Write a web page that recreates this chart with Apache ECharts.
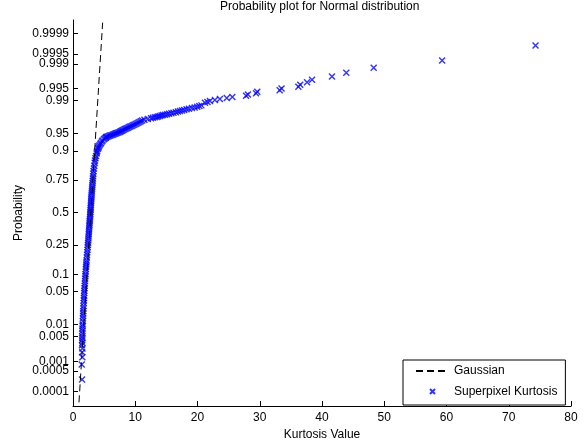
<!DOCTYPE html>
<html>
<head>
<meta charset="utf-8">
<script src="https://cdn.jsdelivr.net/npm/echarts@6/dist/echarts.min.js"></script>
<style>html,body{margin:0;padding:0;background:#fff}#c{width:583px;height:442px}</style>
</head>
<body>
<div id="c"></div>
<script>
// ---- data (sorted sample) ----
const kurtosis = [
1.45,1.40,1.50,1.47,1.52,1.44,1.50,1.47,1.52,1.49,
1.50,1.51,1.52,1.54,1.55,1.58,1.60,1.62,1.64,1.65,
1.67,1.69,1.72,1.74,1.76,1.78,1.80,1.82,1.85,1.88,
1.90,1.93,1.96,1.99,2.01,2.04,2.07,2.10,2.12,2.15,
2.18,2.22,2.26,2.29,2.33,2.36,2.39,2.42,2.45,2.48,
2.50,2.53,2.55,2.58,2.60,2.62,2.65,2.67,2.69,2.71,
2.73,2.75,2.78,2.80,2.82,2.84,2.86,2.88,2.90,2.92,
2.94,2.96,2.98,3.00,3.03,3.06,3.09,3.11,3.14,3.17,
3.20,3.23,3.26,3.30,3.35,3.42,3.49,3.54,3.61,3.70,
3.79,3.84,3.89,4.00,4.09,4.17,4.26,4.40,4.50,4.64,
4.76,4.96,5.10,5.25,5.33,5.40,5.59,5.79,5.96,6.17,
6.37,6.54,6.73,6.91,7.10,7.29,7.48,7.63,7.79,7.93,
8.09,8.27,8.44,8.63,8.83,9.03,9.22,9.42,9.63,9.85,
10.06,10.27,10.48,10.68,10.89,11.11,11.47,12.02,12.54,12.84,
13.14,13.44,13.69,13.94,14.22,14.47,14.79,15.11,15.43,15.80,
16.14,16.52,16.85,17.18,17.50,17.85,18.24,18.63,19.10,19.54,
19.96,20.30,20.63,21.2,21.6,22.0,22.8,23.6,24.7,25.6,
27.8,28.1,29.4,29.6,33.2,33.5,36.2,36.5,37.6,38.4,
41.6,43.9,48.3,59.3,74.3
];
const probability = [
0.00026,0.00079,0.00132,0.00184,0.00237,0.00289,0.00342,0.00395,0.00447,0.0050,
0.006,0.007,0.008,0.009,0.010,0.012,0.014,0.016,0.018,0.020,
0.023,0.026,0.030,0.034,0.038,0.042,0.047,0.052,0.058,0.064,
0.070,0.077,0.085,0.093,0.100,0.11,0.12,0.13,0.14,0.15,
0.16,0.175,0.19,0.205,0.22,0.235,0.25,0.265,0.28,0.295,
0.31,0.325,0.34,0.355,0.37,0.385,0.40,0.415,0.43,0.445,
0.46,0.475,0.49,0.505,0.52,0.535,0.55,0.565,0.58,0.595,
0.61,0.625,0.64,0.655,0.67,0.685,0.70,0.715,0.73,0.745,
0.76,0.775,0.79,0.805,0.82,0.835,0.85,0.86,0.87,0.88,
0.89,0.895,0.90,0.907,0.911,0.915,0.919,0.923,0.926,0.93,
0.933,0.936,0.938,0.94,0.941,0.942,0.943,0.944,0.945,0.946,
0.947,0.948,0.949,0.950,0.951,0.952,0.953,0.954,0.955,0.956,
0.957,0.958,0.959,0.960,0.961,0.962,0.963,0.964,0.965,0.966,
0.967,0.968,0.969,0.970,0.971,0.972,0.973,0.974,0.975,0.9755,
0.976,0.9765,0.977,0.9775,0.978,0.9785,0.979,0.9795,0.980,0.9805,
0.981,0.9815,0.982,0.9825,0.983,0.9835,0.984,0.9845,0.985,0.9855,
0.986,0.9865,0.987,0.98868,0.98921,0.98974,0.99026,0.99079,0.99132,0.99184,
0.99237,0.99289,0.99342,0.99395,0.99447,0.9950,0.99553,0.99605,0.99658,0.99711,
0.99763,0.99816,0.99868,0.99921,0.99974
];
// Gaussian reference line end points
const gaussKurtosis = [0.96, 4.76];
const gaussProbability = [0.00004, 0.99996];
// axis ticks
const probTicks = [0.0001,0.0005,0.001,0.005,0.01,0.05,0.1,0.25,0.5,0.75,0.9,0.95,0.99,0.995,0.999,0.9995,0.9999];
const probTickLabels = ['0.0001','0.0005','0.001','0.005','0.01','0.05','0.1','0.25','0.5','0.75','0.9','0.95','0.99','0.995','0.999','0.9995','0.9999'];

// normal probability scale (inverse normal CDF, Acklam)
function probit(p){
  const a=[-3.969683028665376e+01,2.209460984245205e+02,-2.759285104469687e+02,1.383577518672690e+02,-3.066479806614716e+01,2.506628277459239e+00];
  const b=[-5.447609879822406e+01,1.615858368580409e+02,-1.556989798598866e+02,6.680131188771972e+01,-1.328068155288572e+01];
  const c=[-7.784894002430293e-03,-3.223964580411365e-01,-2.400758277161838e+00,-2.549732539343734e+00,4.374664141464968e+00,2.938163982698783e+00];
  const d=[7.784695709041462e-03,3.224671290700398e-01,2.445134137142996e+00,3.754408661907416e+00];
  const pl=0.02425, ph=1-pl;
  if(p<pl){const q=Math.sqrt(-2*Math.log(p));return (((((c[0]*q+c[1])*q+c[2])*q+c[3])*q+c[4])*q+c[5])/((((d[0]*q+d[1])*q+d[2])*q+d[3])*q+1);}
  if(p<=ph){const q=p-0.5,r=q*q;return (((((a[0]*r+a[1])*r+a[2])*r+a[3])*r+a[4])*r+a[5])*q/(((((b[0]*r+b[1])*r+b[2])*r+b[3])*r+b[4])*r+1);}
  const q=Math.sqrt(-2*Math.log(1-p));return -(((((c[0]*q+c[1])*q+c[2])*q+c[3])*q+c[4])*q+c[5])/((((d[0]*q+d[1])*q+d[2])*q+d[3])*q+1);
}
const tickZ = probTicks.map(probit);
const pts = kurtosis.map((k,i)=>[k, probit(probability[i])]);
const gauss = gaussKurtosis.map((k,i)=>[k, probit(gaussProbability[i])]);

const FONT = 'Liberation Sans, Arial, sans-serif';
const CROSS = 'path://M0,0L10,10M10,0L0,10';
const chart = echarts.init(document.getElementById('c'), null, {renderer:'canvas'});
chart.setOption({
  animation:false,
  backgroundColor:'#fff',
  title:{text:'Probability plot for Normal distribution',left:220,top:0,padding:[1,0,0,0],
    textStyle:{fontFamily:FONT,fontSize:12,fontWeight:'normal',color:'#000'}},
  grid:{left:73,right:12,top:20,bottom:36,containLabel:false,outerBoundsMode:'none'},
  legend:{orient:'vertical',left:403,top:360,padding:[5,8,5,12],itemGap:6,itemWidth:33,itemHeight:12,
    borderColor:'#000',borderWidth:1,backgroundColor:'#fff',
    textStyle:{fontFamily:FONT,fontSize:12,color:'#000'},
    data:[
      {name:'Gaussian',itemStyle:{color:'transparent',borderColor:'transparent',borderWidth:0}},
      {name:'Superpixel Kurtosis',icon:'path://M-7,-7L-7,-7M0,0L10,10M10,0L0,10M17,17L17,17'}
    ]},
  xAxis:{type:'value',min:0,max:80,interval:10,
    name:'Kurtosis Value',nameLocation:'middle',nameGap:21,
    nameTextStyle:{fontFamily:FONT,fontSize:12,color:'#000'},
    axisLine:{onZero:false,lineStyle:{color:'#000',width:1}},
    axisTick:{inside:true,length:5,lineStyle:{color:'#000'}},
    axisLabel:{margin:6,fontFamily:FONT,fontSize:12,color:'#000'},
    splitLine:{show:false}},
  yAxis:{type:'value',min:-4.02,max:4.0,
    name:'Probability',nameLocation:'middle',nameGap:48,nameRotate:90,nameMoveOverlap:false,
    nameTextStyle:{fontFamily:FONT,fontSize:12,color:'#000'},
    axisLine:{show:true,onZero:false,lineStyle:{color:'#000',width:1}},
    axisTick:{inside:true,length:5,customValues:tickZ,lineStyle:{color:'#000'}},
    axisLabel:{margin:4,fontFamily:FONT,fontSize:12,color:'#000',customValues:tickZ,hideOverlap:false,
      formatter:function(v){let best=0,bd=1e9;tickZ.forEach((z,i)=>{const dd=Math.abs(z-v);if(dd<bd){bd=dd;best=i;}});return probTickLabels[best];}},
    splitLine:{show:false}},
  series:[
    {name:'Gaussian',type:'line',data:gauss,symbol:'none',silent:true,
      lineStyle:{color:'#000',width:1,type:[7,4]},itemStyle:{color:'#000'}},
    {name:'Superpixel Kurtosis',type:'scatter',data:pts,symbol:CROSS,symbolSize:6,
      itemStyle:{color:'none',borderColor:'#0000ff',borderWidth:1.4}}
  ]
});
</script>
</body>
</html>
